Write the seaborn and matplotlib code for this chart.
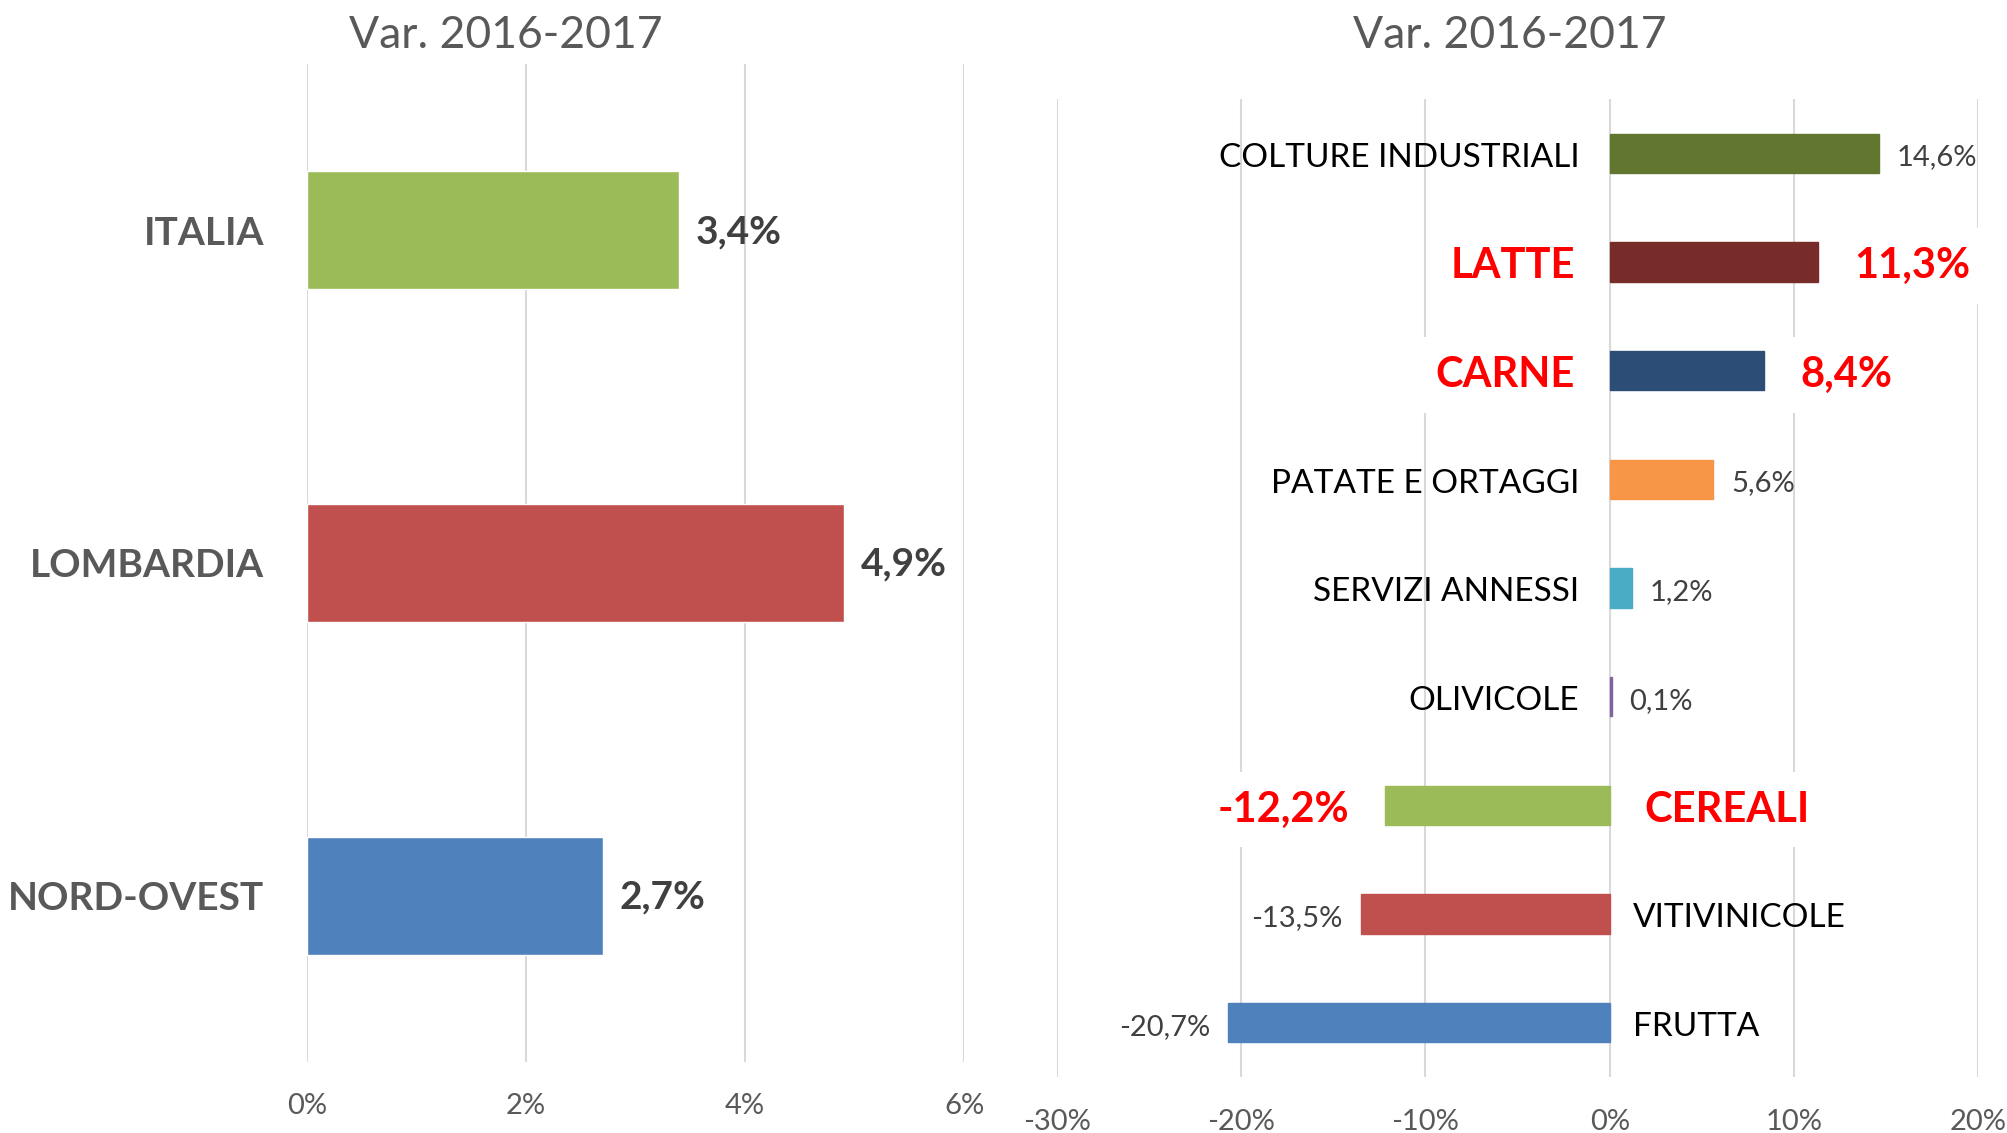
import numpy as np
import pandas as pd
import seaborn as sns
import matplotlib.pyplot as plt
from matplotlib.ticker import FuncFormatter

sns.set_style("white")
plt.rcParams['font.family'] = ['Lato', 'DejaVu Sans']

# grafico a sinistra: aree
aree = ["ITALIA", "LOMBARDIA", "NORD-OVEST"]
var_aree = [3.4, 4.9, 2.7]
col_aree = ["#9BBB59", "#C0504D", "#4F81BD"]
tick_aree = [0, 2, 4, 6]

# grafico a destra: comparti
comparti = ["COLTURE INDUSTRIALI", "LATTE", "CARNE", "PATATE E ORTAGGI",
            "SERVIZI ANNESSI", "OLIVICOLE", "CEREALI", "VITIVINICOLE", "FRUTTA"]
var_comparti = [14.6, 11.3, 8.4, 5.6, 1.2, 0.1, -12.2, -13.5, -20.7]
col_comparti = ["#617730", "#772C2A", "#2C4D75", "#F79646", "#4BACC6",
                "#8064A2", "#9BBB59", "#C0504D", "#4F81BD"]
tick_comparti = [-30, -20, -10, 0, 10, 20]
evidenziati = ["LATTE", "CARNE", "CEREALI"]

titolo = "Var. 2016-2017"
GRID = "#D9D9D9"
GRAY = "#595959"
DARK = "#404040"
DY = -3  # piccolo abbassamento delle etichette (punti)


def fmt(v):
    return f"{v:.1f}".replace(".", ",") + "%"


fig = plt.figure(figsize=(20.07, 11.33), dpi=100)

# --- sinistra
ax1 = fig.add_axes([0.1530, 0.0627, 0.3274, 0.8809])
sns.barplot(x=var_aree, y=aree, hue=aree, palette=col_aree, width=0.355,
            saturation=1, legend=False, ax=ax1)
ax1.set_xlim(0, 6)
ax1.set_xticks(tick_aree)
ax1.xaxis.set_major_formatter(FuncFormatter(lambda v, p: f"{v:.0f}%"))
ax1.grid(axis="x", color=GRID, lw=1.5)
ax1.set_axisbelow(True)
sns.despine(ax=ax1, left=True, bottom=True)
ax1.set_xlabel("")
ax1.set_ylabel("")
ax1.tick_params(axis="y", length=0, pad=31, labelsize=28, labelcolor=GRAY)
ax1.tick_params(axis="x", length=0, pad=22, labelsize=21, labelcolor=GRAY)
for lab in ax1.get_yticklabels():
    lab.set_fontweight("bold")
for i, v in enumerate(var_aree):
    ax1.annotate(fmt(v), xy=(v, i), xytext=(12, -1), textcoords="offset points",
                 ha="left", va="center", fontsize=28, fontweight="bold", color=DARK)

# --- destra
ax2 = fig.add_axes([0.5267, 0.0494, 0.4589, 0.8632])
sns.barplot(x=var_comparti, y=comparti, hue=comparti, palette=col_comparti,
            width=0.36, saturation=1, legend=False, ax=ax2)
for p in ax2.patches:
    p.set_edgecolor(p.get_facecolor())
    p.set_linewidth(1)
ax2.set_xlim(-30, 20)
ax2.set_xticks(tick_comparti)
ax2.xaxis.set_major_formatter(FuncFormatter(lambda v, p: f"{v:.0f}%"))
ax2.grid(axis="x", color=GRID, lw=1.5)
ax2.set_axisbelow(True)
sns.despine(ax=ax2, left=True, bottom=True)
ax2.set_xlabel("")
ax2.set_ylabel("")
ax2.set_yticks([])
ax2.tick_params(axis="x", length=0, pad=23, labelsize=21, labelcolor=GRAY)

for i, (nome, v) in enumerate(zip(comparti, var_comparti)):
    segno = 1 if v >= 0 else -1
    if nome in evidenziati:
        box = dict(boxstyle="square,pad=0.45", fc="white", ec="none")
        ax2.annotate(nome, xy=(0, i), xytext=(-25 * segno, DY), textcoords="offset points",
                     ha="right" if segno > 0 else "left", va="center",
                     fontsize=30, fontweight="bold", color="red", bbox=box, zorder=5)
        ax2.annotate(fmt(v), xy=(v, i), xytext=(26 * segno, DY), textcoords="offset points",
                     ha="left" if segno > 0 else "right", va="center",
                     fontsize=30, fontweight="bold", color="red", bbox=box, zorder=5)
    else:
        ax2.annotate(nome, xy=(0, i), xytext=(-22 if segno > 0 else 17, DY),
                     textcoords="offset points",
                     ha="right" if segno > 0 else "left", va="center",
                     fontsize=24, color="black")
        ax2.annotate(fmt(v), xy=(v, i), xytext=(13 * segno, DY), textcoords="offset points",
                     ha="left" if segno > 0 else "right", va="center",
                     fontsize=21, color=DARK)

fig.text(506 / 2007, 1 - 35 / 1133, titolo, ha="center", va="center", fontsize=32, color=GRAY)
fig.text(1510 / 2007, 1 - 35 / 1133, titolo, ha="center", va="center", fontsize=32, color=GRAY)

fig.savefig("out.png", dpi=100, facecolor="white")
